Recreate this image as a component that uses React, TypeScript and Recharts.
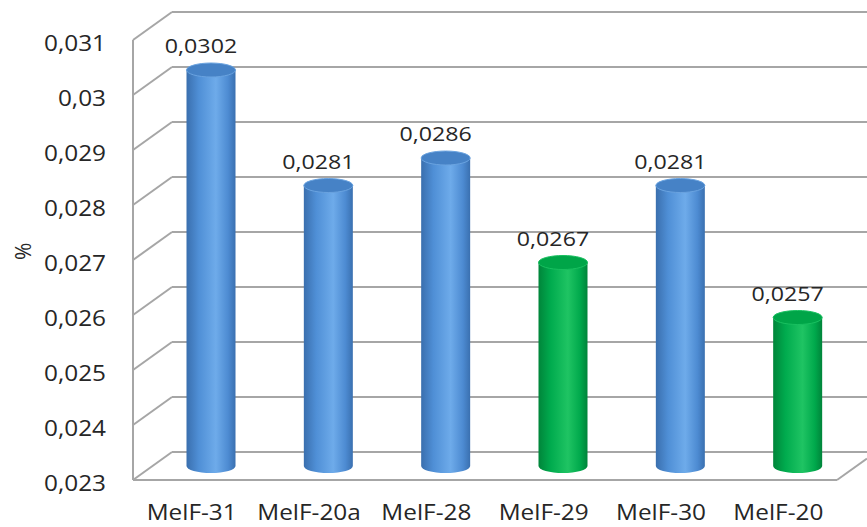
import { BarChart, Bar, XAxis, YAxis, CartesianGrid } from 'recharts';

const categories = ['MelF-31', 'MelF-20a', 'MelF-28', 'MelF-29', 'MelF-30', 'MelF-20'];
const values = [0.0302, 0.0281, 0.0286, 0.0267, 0.0281, 0.0257];
const highlighted = [false, false, false, true, false, true];
const yTicks = [0.023, 0.024, 0.025, 0.026, 0.027, 0.028, 0.029, 0.03, 0.031];

const W = 867;
const H = 527;
const X_AXIS_H = 47;
const MARGIN = { top: 40, right: 30, bottom: 0, left: 0 };
const AXIS_W = 133;
const DEPTH_X = 39;
const DEPTH_Y = 28;
const FLOOR_Y = H - X_AXIS_H;
const GRID = '#a6a6a6';
const TEXT = '#262626';
const FONT = '"Open Sans", sans-serif';
const STRETCH = 1.16;

const data = categories.map((name, i) => ({ name, value: values[i], green: highlighted[i] }));

const fmt = (v: number) => String(v).replace('.', ',');

function GridLine(props: any) {
  const { x1, x2, y1 } = props;
  const bx = x1 + DEPTH_X;
  const by = y1 - DEPTH_Y;
  const isFloor = Math.abs(y1 - FLOOR_Y) < 2;
  return (
    <g stroke={GRID} strokeWidth={2} fill="none">
      <line x1={x1} y1={y1} x2={bx} y2={by} />
      <line x1={bx} y1={by} x2={W} y2={by} />
      {isFloor && (
        <>
          <line x1={x1} y1={y1} x2={x2} y2={y1} />
          <line x1={x2} y1={y1} x2={W} y2={y1 - ((W - x2) * DEPTH_Y) / DEPTH_X} />
        </>
      )}
    </g>
  );
}

function Cylinder(props: any) {
  const { x, y, width, height, payload } = props;
  const left = x + DEPTH_X / 2;
  const right = left + width;
  const top = y - DEPTH_Y / 2;
  const bottom = y + height - DEPTH_Y / 2;
  const rx = width / 2;
  const ry = 7;
  const cx = left + rx;
  const green = payload.green;
  return (
    <g>
      <path
        d={`M${left},${top} L${left},${bottom} A${rx},${ry} 0 0 0 ${right},${bottom} L${right},${top} Z`}
        fill={green ? 'url(#cylGreen)' : 'url(#cylBlue)'}
      />
      <ellipse
        cx={cx}
        cy={top}
        rx={rx}
        ry={ry}
        fill={green ? '#00a548' : '#4682c6'}
        stroke={green ? '#19c060' : '#6aa3e0'}
        strokeWidth={1}
      />
      <g transform={`translate(${cx - 10},${top - ry - 10}) scale(${STRETCH},1)`}>
        <text x={0} y={0} textAnchor="middle" fontSize={20} fontFamily={FONT} fill={TEXT}>
          {fmt(payload.value)}
        </text>
      </g>
    </g>
  );
}

function XTick(props: any) {
  const { x, payload } = props;
  return (
    <g transform={`translate(${x},${FLOOR_Y + 40}) scale(${STRETCH},1)`}>
      <text x={0} y={0} textAnchor="middle" fontSize={21} fontFamily={FONT} fill={TEXT}>
        {payload.value}
      </text>
    </g>
  );
}

function YTick(props: any) {
  const { y, payload } = props;
  return (
    <g transform={`translate(106,${y + 10.5}) scale(${STRETCH},1)`}>
      <text x={0} y={0} textAnchor="end" fontSize={21} fontFamily={FONT} fill={TEXT}>
        {fmt(payload.value)}
      </text>
    </g>
  );
}

export default function App() {
  return (
    <div style={{ position: 'absolute', left: 0, top: 0, width: W, height: H, background: '#fff' }}>
      <BarChart width={W} height={H} data={data} margin={MARGIN} barCategoryGap={0}>
        <defs>
          <linearGradient id="cylBlue" x1="0" y1="0" x2="1" y2="0">
            <stop offset="0%" stopColor="#3a6fae" />
            <stop offset="25%" stopColor="#4f8fd6" />
            <stop offset="60%" stopColor="#6eabea" />
            <stop offset="85%" stopColor="#4d8bd2" />
            <stop offset="100%" stopColor="#3a70b0" />
          </linearGradient>
          <linearGradient id="cylGreen" x1="0" y1="0" x2="1" y2="0">
            <stop offset="0%" stopColor="#00853a" />
            <stop offset="25%" stopColor="#00ab4e" />
            <stop offset="60%" stopColor="#1fc463" />
            <stop offset="85%" stopColor="#00a94c" />
            <stop offset="100%" stopColor="#00843a" />
          </linearGradient>
        </defs>
        <CartesianGrid vertical={false} horizontal={(p: any) => <GridLine key={p.key} {...p} />} />
        <XAxis dataKey="name" axisLine={false} tickLine={false} tick={<XTick />} interval={0} height={X_AXIS_H} />
        <YAxis
          width={AXIS_W}
          domain={[0.023, 0.031]}
          ticks={yTicks}
          interval={0}
          axisLine={{ stroke: GRID, strokeWidth: 2 }}
          tickLine={false}
          tick={<YTick />}
          label={{ value: '%', angle: -90, position: 'insideLeft', offset: 24, fontSize: 21, fontFamily: FONT, fill: TEXT }}
        />
        <Bar dataKey="value" barSize={49} shape={<Cylinder />} isAnimationActive={false} />
      </BarChart>
    </div>
  );
}
